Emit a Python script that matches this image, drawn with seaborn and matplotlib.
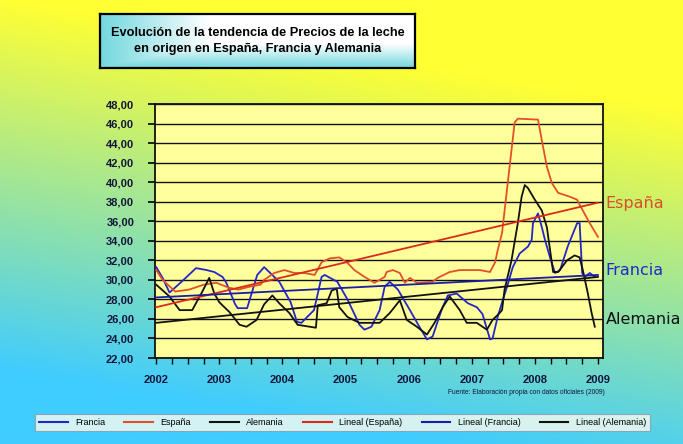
import numpy as np
import pandas as pd
import seaborn as sns
import matplotlib.pyplot as plt
from matplotlib.lines import Line2D
from matplotlib.ticker import FuncFormatter, MultipleLocator

# datos (año decimal, precio)
anios_francia = [2002.00, 2002.10, 2002.21, 2002.40, 2002.63, 2002.80, 2002.92, 2003.05, 2003.11,
                 2003.25, 2003.29, 2003.44, 2003.60, 2003.71, 2003.95, 2004.13, 2004.23, 2004.30,
                 2004.50, 2004.62, 2004.67, 2004.87, 2005.03, 2005.22, 2005.30, 2005.41, 2005.54,
                 2005.62, 2005.70, 2005.83, 2006.02, 2006.17, 2006.29, 2006.38, 2006.52, 2006.62,
                 2006.76, 2006.94, 2007.08, 2007.17, 2007.29, 2007.33, 2007.41, 2007.49, 2007.56,
                 2007.65, 2007.76, 2007.89, 2007.95, 2007.97, 2008.05, 2008.11, 2008.16, 2008.24,
                 2008.32, 2008.40, 2008.52, 2008.67, 2008.71, 2008.75, 2008.79, 2008.87, 2008.95]
precio_francia = [31.3, 30.2, 28.7, 29.8, 31.2, 31.0, 30.8, 30.3, 29.7,
                  27.5, 27.1, 27.1, 30.5, 31.3, 29.8, 27.7, 25.7, 25.6,
                  26.9, 30.3, 30.5, 29.8, 28.0, 25.4, 24.9, 25.2, 26.9,
                  29.3, 29.8, 29.0, 26.9, 25.2, 23.9, 24.2, 26.9, 28.4,
                  28.6, 27.6, 27.2, 26.5, 23.9, 24.0, 26.2, 27.9, 29.3,
                  31.3, 32.7, 33.4, 34.1, 35.8, 36.8, 35.4, 34.1, 32.3,
                  30.7, 31.0, 33.4, 35.8, 35.8, 30.7, 30.3, 30.7, 30.3]

anios_espana = [2002.00, 2002.10, 2002.30, 2002.52, 2002.75, 2002.95, 2003.15, 2003.30, 2003.48,
                2003.65, 2003.71, 2003.87, 2004.03, 2004.19, 2004.35, 2004.51, 2004.62, 2004.75,
                2004.90, 2005.02, 2005.14, 2005.30, 2005.46, 2005.62, 2005.65, 2005.75, 2005.86,
                2005.94, 2006.02, 2006.13, 2006.38, 2006.46, 2006.65, 2006.81, 2007.13, 2007.29,
                2007.37, 2007.41, 2007.48, 2007.60, 2007.68, 2007.73, 2008.05, 2008.11, 2008.19,
                2008.27, 2008.37, 2008.56, 2008.67, 2008.76, 2008.87, 2009.00]
precio_espana = [31.0, 30.0, 28.8, 29.0, 29.5, 29.7, 29.2, 29.0, 29.3,
                 29.5, 30.0, 30.7, 31.0, 30.7, 30.7, 30.5, 31.8, 32.2,
                 32.3, 31.8, 31.0, 30.3, 29.7, 30.3, 30.8, 31.0, 30.7,
                 29.7, 30.2, 29.7, 29.8, 30.2, 30.8, 31.0, 31.0, 30.8,
                 31.8, 33.0, 34.8, 41.6, 46.1, 46.5, 46.4, 44.3, 41.6,
                 39.9, 38.9, 38.5, 38.2, 37.1, 35.8, 34.4]

anios_alemania = [2002.00, 2002.21, 2002.37, 2002.57, 2002.73, 2002.84, 2002.92, 2003.00, 2003.16,
                  2003.32, 2003.43, 2003.59, 2003.71, 2003.84, 2003.95, 2004.11, 2004.24, 2004.53,
                  2004.56, 2004.70, 2004.78, 2004.86, 2004.90, 2005.03, 2005.22, 2005.35, 2005.54,
                  2005.70, 2005.86, 2005.97, 2006.13, 2006.29, 2006.41, 2006.54, 2006.65, 2006.81,
                  2006.92, 2007.08, 2007.17, 2007.24, 2007.33, 2007.44, 2007.48, 2007.52, 2007.63,
                  2007.73, 2007.79, 2007.84, 2007.89, 2008.00, 2008.11, 2008.19, 2008.24, 2008.29,
                  2008.37, 2008.51, 2008.63, 2008.71, 2008.76, 2008.84, 2008.90, 2008.95]
precio_alemania = [29.5, 28.3, 26.9, 26.9, 28.8, 30.2, 28.6, 27.7, 26.7,
                   25.4, 25.2, 25.9, 27.5, 28.4, 27.6, 26.6, 25.4, 25.1,
                   27.4, 27.6, 28.9, 29.1, 27.2, 26.2, 25.6, 25.6, 25.6,
                   26.6, 27.9, 25.9, 25.2, 24.4, 25.6, 27.2, 28.3, 26.9,
                   25.6, 25.6, 25.2, 24.9, 25.9, 26.6, 26.9, 29.0, 32.0,
                   35.8, 38.5, 39.7, 39.4, 38.2, 37.1, 35.4, 33.1, 30.8,
                   30.8, 32.0, 32.5, 32.3, 31.0, 28.6, 26.6, 25.2]

# lineas de tendencia (extremos)
anios_tendencia = [2002.0, 2009.0]
tend_espana = [27.2, 37.9]
tend_francia = [28.2, 30.5]
tend_alemania = [25.6, 30.3]

colores = {'Francia': '#2626c8', 'España': '#e2502a', 'Alemania': '#111111'}
colores_tend = {'Francia': '#1c1ca0', 'España': '#dc2a18', 'Alemania': '#111111'}
ticks_y = list(range(22, 49, 2))
anios_eje = list(range(2002, 2010))

datos = pd.concat([
    pd.DataFrame({'anio': anios_francia, 'precio': precio_francia, 'serie': 'Francia'}),
    pd.DataFrame({'anio': anios_espana, 'precio': precio_espana, 'serie': 'España'}),
    pd.DataFrame({'anio': anios_alemania, 'precio': precio_alemania, 'serie': 'Alemania'}),
])
tendencias = pd.concat([
    pd.DataFrame({'anio': anios_tendencia, 'precio': tend_espana, 'serie': 'España'}),
    pd.DataFrame({'anio': anios_tendencia, 'precio': tend_francia, 'serie': 'Francia'}),
    pd.DataFrame({'anio': anios_tendencia, 'precio': tend_alemania, 'serie': 'Alemania'}),
])

plt.rcParams['font.family'] = ['Liberation Sans', 'DejaVu Sans']

fig = plt.figure(figsize=(6.83, 4.44), dpi=100)

# fondo degradado amarillo -> celeste
bg = fig.add_axes([0, 0, 1, 1], zorder=-10)
yy, xx = np.mgrid[0:1:300j, 0:1:400j]
t = np.clip(1.2 * yy + 0.3 * (1 - xx) - 0.3, 0, 1)[..., None]
amarillo = np.array([1.0, 1.0, 0.2])
celeste = np.array([0.25, 0.8, 1.0])
bg.imshow(amarillo * (1 - t) + celeste * t, aspect='auto', extent=[0, 1, 0, 1], origin='upper')
bg.axis('off')

# caja del titulo
tb = fig.add_axes([100 / 683, 1 - 68 / 444, 315 / 683, 54 / 444])
ty, tx = np.mgrid[0:1:60j, 0:1:300j]
c = np.maximum(np.clip(1 - tx / 0.35, 0, 1), np.clip((ty - 0.55) / 0.45, 0, 1))[..., None] * 0.85
cian = np.array([0.35, 0.82, 0.85])
tb.imshow(np.ones(3) * (1 - c) + cian * c, aspect='auto', extent=[0, 1, 0, 1], origin='upper')
tb.set_xticks([]); tb.set_yticks([])
for s in tb.spines.values():
    s.set_linewidth(1.6)
tb.text(0.5, 0.5, 'Evolución de la tendencia de Precios de la leche\nen origen en España, Francia y Alemania',
        ha='center', va='center', fontsize=9.2, fontweight='bold', linespacing=1.35, transform=tb.transAxes)

# grafico principal
ax = fig.add_axes([155 / 683, 1 - 358 / 444, 448 / 683, 254 / 444])
ax.set_facecolor('#ffff9c')
sns.lineplot(data=datos, x='anio', y='precio', hue='serie', palette=colores, estimator=None,
             sort=False, legend=False, linewidth=1.3, ax=ax, zorder=3)
sns.lineplot(data=tendencias, x='anio', y='precio', hue='serie', palette=colores_tend, estimator=None,
             sort=False, legend=False, linewidth=1.3, ax=ax, zorder=4)

ax.set_xlim(2001.98, 2009.08)
ax.set_ylim(22, 48)
ax.set_yticks(ticks_y)
ax.yaxis.set_major_formatter(FuncFormatter(lambda v, p: f'{v:.2f}'.replace('.', ',')))
ax.set_xticks(anios_eje)
ax.xaxis.set_minor_locator(MultipleLocator(0.25))
ax.yaxis.grid(True, color='#111111', linewidth=1.0)
ax.set_axisbelow(True)
ax.set_xlabel('')
ax.set_ylabel('')
for s in ax.spines.values():
    s.set_linewidth(1.3)
    s.set_color('#111111')
ax.tick_params(axis='y', length=5, width=1.2, pad=10, labelsize=8, labelcolor='#14143a')
ax.tick_params(axis='x', which='both', length=4, width=1.0, pad=8, labelsize=8, labelcolor='#14143a')
for lab in ax.get_xticklabels() + ax.get_yticklabels():
    lab.set_fontweight('bold')

# etiquetas de pais a la derecha
trans = ax.get_yaxis_transform()
for nombre, yv, col in [('España', 37.8, '#d8502a'), ('Francia', 31.0, '#2626c8'), ('Alemania', 25.9, '#111111')]:
    ax.text(1.006, yv, nombre, color=col, fontsize=11.5, family='DejaVu Sans', va='center',
            transform=trans, clip_on=False)

fig.text(0.885, 1 - 392 / 444, 'Fuente: Elaboración propia con datos oficiales (2009)',
         fontsize=4.8, ha='right', va='center', color='#14143a')

# leyenda inferior
handles = [Line2D([], [], color=colores['Francia'], lw=1.5),
           Line2D([], [], color=colores['España'], lw=1.5),
           Line2D([], [], color=colores['Alemania'], lw=1.5),
           Line2D([], [], color=colores_tend['España'], lw=1.5),
           Line2D([], [], color=colores_tend['Francia'], lw=1.5),
           Line2D([], [], color=colores_tend['Alemania'], lw=1.5)]
etiquetas = ['Francia', 'España', 'Alemania', 'Lineal (España)', 'Lineal (Francia)', 'Lineal (Alemania)']
leg = fig.legend(handles, etiquetas, loc='center', ncol=6, mode='expand',
                 bbox_to_anchor=(35 / 683, 12 / 444, 615 / 683, 19 / 444),
                 fontsize=6.5, handlelength=3.2, frameon=True, fancybox=False,
                 borderaxespad=0, borderpad=0.45)
leg.get_frame().set_facecolor('#fbfbf0')
leg.get_frame().set_edgecolor('#8899aa')
leg.get_frame().set_linewidth(0.8)

fig.savefig('out.png', dpi=100)
